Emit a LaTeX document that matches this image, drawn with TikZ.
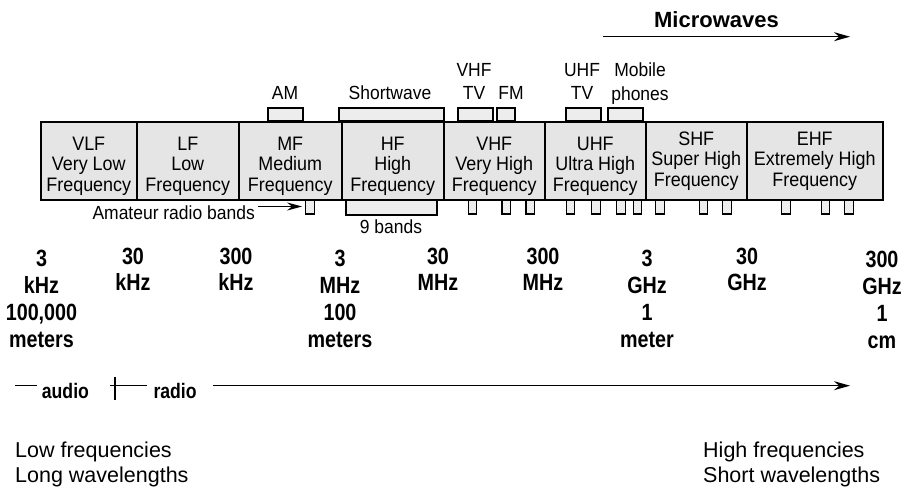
\documentclass[tikz,border=0pt]{standalone}
\usepackage{fontspec}
\setmainfont{Liberation Sans}
\newfontfamily\condfont[FakeStretch=0.84]{Liberation Sans}
\newfontfamily\regfont[FakeStretch=0.92]{Liberation Sans}
\usetikzlibrary{arrows.meta}
\begin{document}
\begin{tikzpicture}[x=1pt,y=-1pt,
 cell/.style={draw, line width=1.5pt, fill=black!10, minimum height=78pt, inner sep=0pt, anchor=north west},
 celltext/.style={align=center, inner sep=0pt, anchor=north, font=\regfont\fontsize{19.5}{20.5}\selectfont},
 topbox/.style={draw, line width=1.4pt, fill=black!7, minimum height=13pt, inner sep=0pt},
 smallbox/.style={draw, line width=1.3pt, fill=black!7, minimum width=8.5pt, minimum height=15pt, inner sep=0pt},
 lbl/.style={inner sep=0pt, anchor=north, align=center, font=\regfont\fontsize{19}{23.3}\selectfont},
 freq/.style={inner sep=0pt, anchor=north, align=center, font=\condfont\bfseries\fontsize{23.5}{26.8}\selectfont},
 arr/.style={line width=1.3pt, -{Stealth[length=16pt,width=9pt]}},
 plain/.style={line width=1.3pt},
 bottomtext/.style={inner sep=0pt, anchor=north west, align=left, font=\fontsize{21.5}{25}\selectfont},
 bandtxt/.style={inner sep=0pt, font=\condfont\bfseries\fontsize{21}{24}\selectfont}
]
\useasboundingbox (0,0) rectangle (906,490);

% Microwaves
\node[inner sep=0pt, anchor=north, font=\bfseries\fontsize{22}{24}\selectfont] (micro) at (716.5,11.5) {Microwaves};
\coordinate (mw0) at (603,36.7);
\coordinate (mw1) at (850,36.7);
\draw[arr] (mw0) -- (mw1);

% top labels
\node[lbl] (aml) at (285,86) {AM};
\node[lbl] (swl) at (390,86) {Shortwave};
\node[lbl] (vtvl) at (474,63) {VHF\\TV};
\node[lbl] (fml) at (511,86) {FM};
\node[lbl] (utvl) at (582,63) {UHF\\TV};
\node[lbl] (mobl) at (640,63) {Mobile\\phones};

% top boxes
\node[topbox, minimum width=35pt] (am) at (285.5,114.5) {};
\node[topbox, minimum width=105pt] (sw) at (391.5,114.5) {};
\node[topbox, minimum width=35pt] (vtv) at (475.5,114.5) {};
\node[topbox, minimum width=18pt] (fm) at (506,114.5) {};
\node[topbox, minimum width=35pt] (utv) at (583.5,114.5) {};
\node[topbox, minimum width=35pt] (mob) at (625.5,114.5) {};

% bottom boxes
\node[smallbox] (amb) at (310,206.5) {};
\node[smallbox, minimum width=91pt, minimum height=16pt] (nine) at (391.5,207) {};
\foreach \xx [count=\i] in {472.5,506.3,530.3,570.5,596,621,637.5,660,703.5,727,786,825.5,849}
  \node[smallbox] (sb\i) at (\xx,206.5) {};

% bar cells
\node[cell, minimum width=96pt] (vlf) at (40,121) {};
\node[cell, minimum width=102pt] (lf) at (136,121) {};
\node[cell, minimum width=103pt] (mf) at (238,121) {};
\node[cell, minimum width=102pt] (hf) at (341,121) {};
\node[cell, minimum width=101pt] (vhf) at (443,121) {};
\node[cell, minimum width=101pt] (uhf) at (544,121) {};
\node[cell, minimum width=101pt] (shf) at (645,121) {};
\node[cell, minimum width=136pt] (ehf) at (746,121) {};

\node[celltext] (vlft) at ([yshift=-15.5pt]vlf.north) {VLF\\Very Low\\Frequency};
\node[celltext] (lft) at ([yshift=-15.5pt]lf.north) {LF\\Low\\Frequency};
\node[celltext] (mft) at ([yshift=-15.5pt]mf.north) {MF\\Medium\\Frequency};
\node[celltext] (hft) at ([yshift=-15.5pt]hf.north) {HF\\High\\Frequency};
\node[celltext] (vhft) at ([yshift=-15.5pt]vhf.north) {VHF\\Very High\\Frequency};
\node[celltext] (uhft) at ([yshift=-15.5pt]uhf.north) {UHF\\Ultra High\\Frequency};
\node[celltext] (shft) at ([yshift=-10.5pt]shf.north) {SHF\\Super High\\Frequency};
\node[celltext] (ehft) at ([yshift=-10.5pt]ehf.north) {EHF\\Extremely High\\Frequency};

% amateur
\node[inner sep=0pt, anchor=north east, font=\regfont\fontsize{19}{20}\selectfont] (amt) at (255,206) {Amateur radio bands};
\draw[line width=1.3pt, -{Stealth[length=15pt,width=8pt]}] ([xshift=3pt]amt.east |- amb.west) -- ([xshift=-3pt]amb.west);
\node[lbl] (ninel) at (391,219.5) {9 bands};

% frequency labels
\node[freq] (f1) at (41.5,250) {3\\kHz\\100,000\\meters};
\node[freq] (f2) at (133,247.5) {30\\kHz};
\node[freq] (f3) at (236,247.5) {300\\kHz};
\node[freq] (f4) at (340,250) {3\\MHz\\100\\meters};
\node[freq] (f5) at (438,247.5) {30\\MHz};
\node[freq] (f6) at (543,247.5) {300\\MHz};
\node[freq] (f7) at (647,250) {3\\GHz\\1\\meter};
\node[freq] (f8) at (747,247.5) {30\\GHz};
\node[freq] (f9) at (882,251) {300\\GHz\\1\\cm};

% audio / radio
\coordinate (au0) at (15,385.7);
\coordinate (au1) at (37,385.7);
\draw[plain] (au0) -- (au1);
\node[bandtxt, anchor=base west] (audio) at (41.7,398.3) {audio};
\coordinate (cv0) at (115,377);
\coordinate (cv1) at (115,400);
\coordinate (ch0) at (110,385.7);
\coordinate (ch1) at (146.7,385.7);
\draw[plain] (cv0) -- (cv1);
\draw[plain] (ch0) -- (ch1);
\node[bandtxt, anchor=base west] (radio) at (153.3,398.3) {radio};
\coordinate (ra0) at (213,385.7);
\coordinate (ra1) at (850,385.7);
\draw[arr] (ra0) -- (ra1);

% bottom text
\node[bottomtext] (lowt) at (15,442) {Low frequencies\\Long wavelengths};
\node[bottomtext] (hight) at (703,442) {High frequencies\\Short wavelengths};
\end{tikzpicture}
\end{document}
